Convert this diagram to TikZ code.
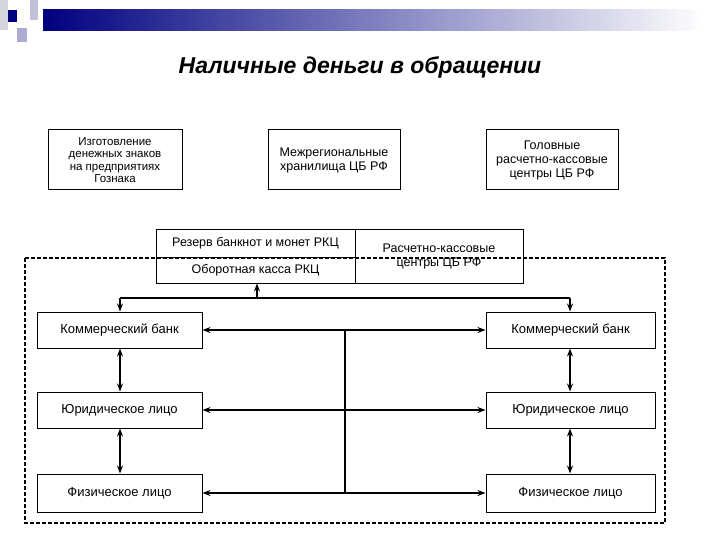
\documentclass[tikz,border=0pt]{standalone}
\usepackage{fontspec}
\setmainfont{Liberation Sans}
\usetikzlibrary{arrows.meta}
\begin{document}
\begin{tikzpicture}[x=1pt,y=-1pt,
  bx/.style={draw,line width=1pt,align=center,font=\fontsize{12.5}{14}\selectfont,inner sep=0pt},
  lb/.style={draw,line width=1pt,minimum width=165pt,minimum height=36pt,font=\fontsize{13}{15}\selectfont,inner sep=0pt},
  ar/.style={line width=1.2pt,-{Stealth[length=8pt,width=6pt]}},
  dar/.style={line width=1.2pt,{Stealth[length=8pt,width=6pt]}-{Stealth[length=8pt,width=6pt]}},
  thk/.style={line width=2.5pt}]
\useasboundingbox (0,0) rectangle (720,540);
% decoration
\shade[left color=blue!50!black, right color=white] (43,10) rectangle (705,31);
\fill[blue!10!gray!30] (0,0) rectangle (8,30);
\fill[blue!20!gray!40] (30,0) rectangle (38,20);
\fill[blue!50!black] (8,10) rectangle (17,22);
\fill[blue!30!gray!50] (17,28) rectangle (27,42);
\node[font=\fontsize{23}{27}\selectfont\bfseries\itshape] (t) at (360,67) {Наличные деньги в обращении};
\node[bx,minimum width=134pt,minimum height=60pt,font=\fontsize{11.5}{12.5}\selectfont] (b1) at (115,160) {Изготовление\\денежных знаков\\на предприятиях\\Гознака};
\node[bx,minimum width=132pt,minimum height=60pt] (b2) at (334,160) {Межрегиональные\\хранилища ЦБ РФ};
\node[bx,minimum width=132pt,minimum height=60pt] (b3) at (552,160) {Головные\\расчетно-кассовые\\центры ЦБ РФ};
\draw[dash pattern=on 4pt off 2pt,line width=1.5pt] (25,258) rectangle (665,523);
\node[bx,minimum width=199pt,minimum height=27pt] (r1) at (255.5,243.5) {Резерв банкнот и монет РКЦ};
\node[bx,minimum width=199pt,minimum height=26pt] (r2) at (255.5,270) {Оборотная касса РКЦ};
\node[bx,minimum width=168pt,minimum height=53pt] (r3) at (439,256.5) {};
\node[font=\fontsize{12.5}{14}\selectfont,align=center] (r3t) at (439,256) {Расчетно-кассовые\\центры ЦБ РФ};
\node[lb] (k1) at (119.5,330) {Коммерческий банк};
\node[lb,minimum width=169pt] (k2) at (570.5,330) {Коммерческий банк};
\node[lb] (y1) at (119.5,410) {Юридическое лицо};
\node[lb,minimum width=169pt] (y2) at (570.5,410) {Юридическое лицо};
\node[lb,minimum height=38pt] (f1) at (119.5,493) {Физическое лицо};
\node[lb,minimum width=169pt,minimum height=38pt] (f2) at (570.5,493) {Физическое лицо};
\coordinate (bl) at (120,298);
\coordinate (br) at (570,298);
\coordinate (bm) at (257,298);
\draw[thk] (bl) -- (br);
\draw[ar] (bm) -- (r2.south -| bm);
\draw[ar] (bl) -- (k1.north -| bl);
\draw[ar] (br) -- (k2.north -| br);
\draw[dar,line width=2.5pt] (k1) -- (k2);
\draw[dar,line width=2.5pt] (y1) -- (y2);
\draw[dar,line width=2.5pt] (f1) -- (f2);
\coordinate (vt) at (345,330);
\coordinate (vb) at (345,493);
\draw[line width=1.2pt] (vt) -- (vb);
\draw[dar] (k1.south -| bl) -- (y1.north -| bl);
\draw[dar] (y1.south -| bl) -- (f1.north -| bl);
\draw[dar] (k2.south -| br) -- (y2.north -| br);
\draw[dar] (y2.south -| br) -- (f2.north -| br);
\end{tikzpicture}
\end{document}
